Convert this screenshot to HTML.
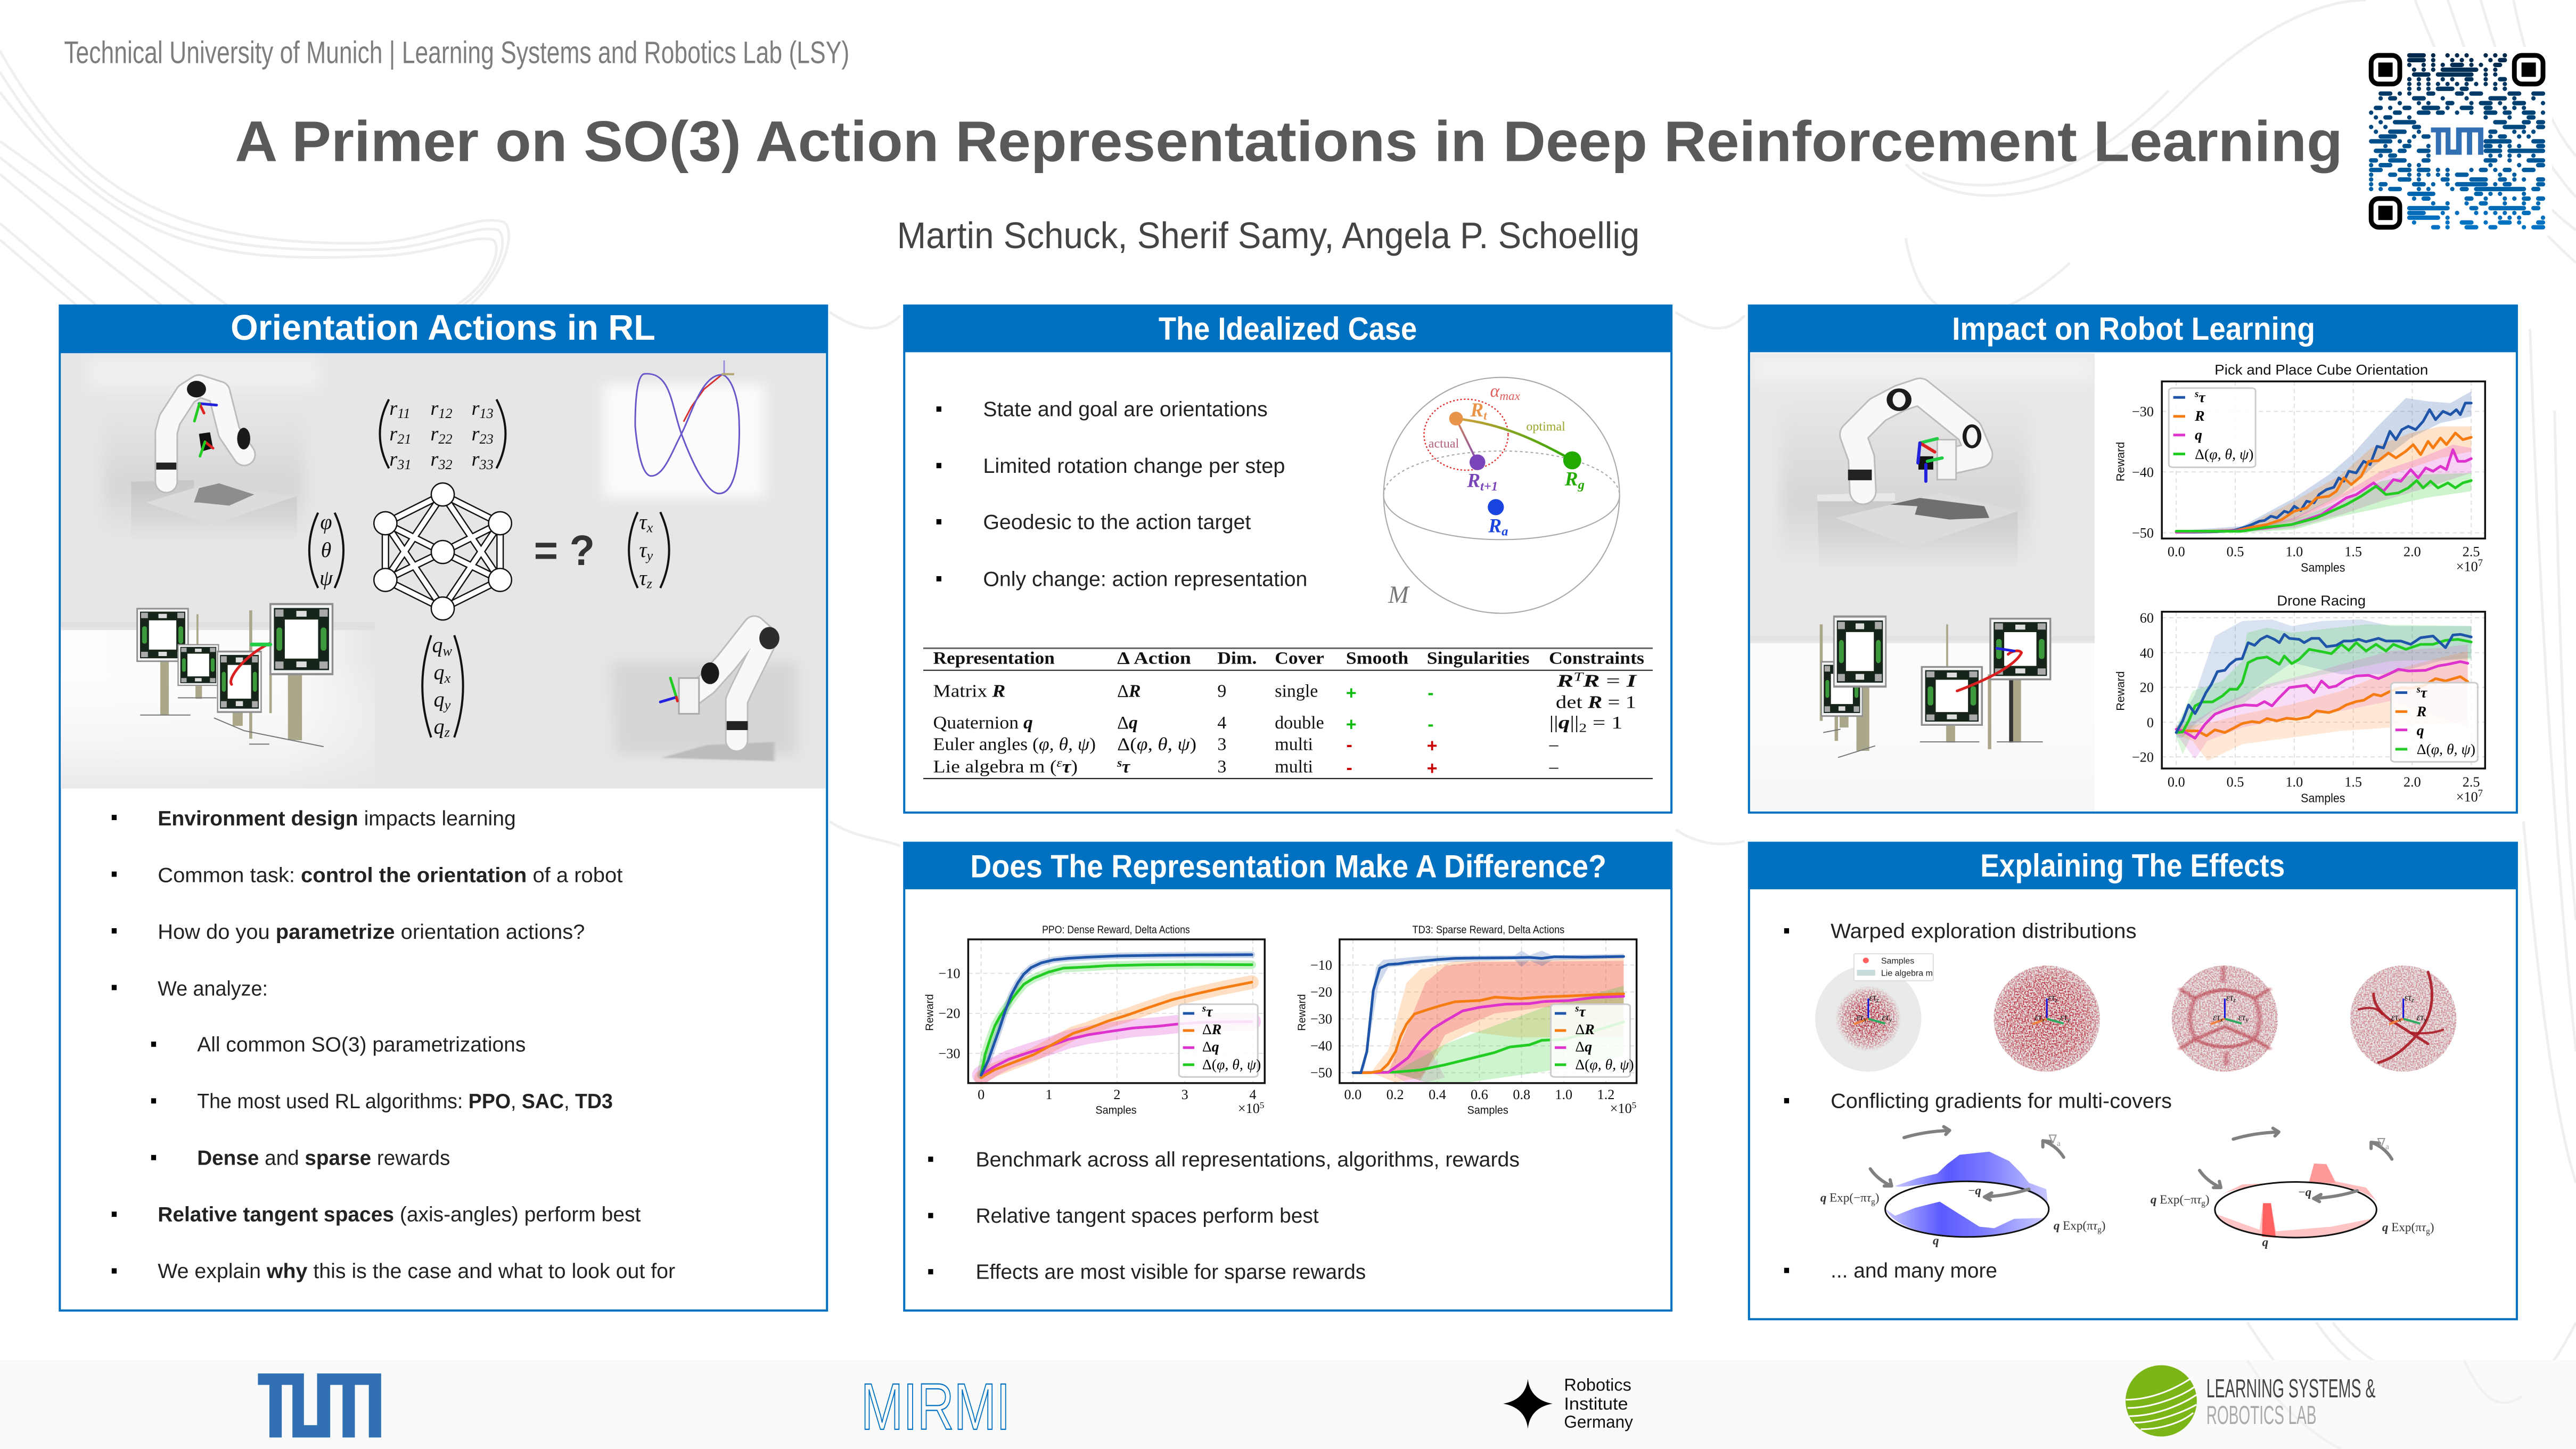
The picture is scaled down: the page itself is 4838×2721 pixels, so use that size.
<!DOCTYPE html>
<html><head><meta charset="utf-8"><title>A Primer on SO(3) Action Representations in Deep Reinforcement Learning</title>
<style>
html,body{margin:0;padding:0;background:#fff}
svg{display:block}
text{font-family:"Liberation Sans",sans-serif}
.s{font-family:"Liberation Serif",serif}
.i{font-family:"Liberation Serif",serif;font-style:italic}
.h{font-weight:700;fill:#fff;font-size:20px}
.b{font-size:12.6px;fill:#222}
.t{font-family:"Liberation Serif",serif;font-size:8.5px;fill:#111}
.l{font-family:"Liberation Serif",serif;font-size:9px;fill:#111}
.n *{vector-effect:non-scaling-stroke}
.nl{fill:none;stroke-linejoin:round;stroke-linecap:round}
</style></head><body>
<svg xmlns="http://www.w3.org/2000/svg" width="4838" height="2721" viewBox="0 0 1568 882" preserveAspectRatio="none">
<defs>
<linearGradient id="fadeV" x1="0" y1="0" x2="0" y2="1"><stop offset="0" stop-color="#c6c6c6"/><stop offset=".55" stop-color="#d4d4d4"/><stop offset="1" stop-color="#e6e6e6"/></linearGradient>
<linearGradient id="floorV" x1="0" y1="0" x2="0" y2="1"><stop offset="0" stop-color="#e6e6e6"/><stop offset=".62" stop-color="#d6d6d6"/><stop offset="1" stop-color="#e6e6e6"/></linearGradient>
<linearGradient id="whiteH" x1="0" y1="0" x2="1" y2="0"><stop offset="0" stop-color="#fdfdfd"/><stop offset=".72" stop-color="#fbfbfb"/><stop offset="1" stop-color="#e6e6e6"/></linearGradient>
<linearGradient id="whiteV3" x1="0" y1="0" x2="0" y2="1"><stop offset="0" stop-color="#ffffff" stop-opacity="0"/><stop offset=".2" stop-color="#fff" stop-opacity="0"/><stop offset="1" stop-color="#e6e6e6" stop-opacity=".85"/></linearGradient>
<linearGradient id="blueG" x1="0" y1="0" x2="1" y2="0"><stop offset="0" stop-color="#c8c8ff"/><stop offset=".35" stop-color="#5a5aff"/><stop offset=".6" stop-color="#7a7aff"/><stop offset="1" stop-color="#c8c8ff"/></linearGradient>
<linearGradient id="qrG" gradientUnits="userSpaceOnUse" x1="0" y1="0" x2="0" y2="36"><stop offset="0" stop-color="#00284a"/><stop offset=".5" stop-color="#004f8a"/><stop offset="1" stop-color="#0073c4"/></linearGradient>
<linearGradient id="geo" x1="0" y1="0" x2="1" y2="0"><stop offset="0" stop-color="#d9a040"/><stop offset="1" stop-color="#2aa800"/></linearGradient>
<linearGradient id="geo2" x1="0" y1="0" x2="0" y2="1"><stop offset="0" stop-color="#d8864e"/><stop offset="1" stop-color="#8048b8"/></linearGradient>
<radialGradient id="s1" cx=".5" cy=".5" r=".5"><stop offset="0" stop-color="#b02838" stop-opacity="1"/><stop offset=".25" stop-color="#b02838" stop-opacity=".95"/><stop offset=".5" stop-color="#b02838" stop-opacity=".5"/><stop offset=".62" stop-color="#b02838" stop-opacity="0"/></radialGradient>
<radialGradient id="s2" cx=".5" cy=".5" r=".5"><stop offset="0" stop-color="#b52030" stop-opacity=".95"/><stop offset=".75" stop-color="#b52030" stop-opacity=".8"/><stop offset="1" stop-color="#b52030" stop-opacity=".5"/></radialGradient>
<filter id="spk" x="0" y="0" width="100%" height="100%"><feTurbulence type="fractalNoise" baseFrequency="1.1" numOctaves="2" seed="3" result="n"/><feColorMatrix in="n" type="matrix" values="0 0 0 0 0 0 0 0 0 0 0 0 0 0 0 3.2 0 0 0 -1.15" result="a"/><feComposite in="SourceGraphic" in2="a" operator="in"/></filter>
<filter id="bz" x="-30%" y="-30%" width="160%" height="160%"><feGaussianBlur stdDeviation="14 20"/></filter>
<filter id="bt" x="-20%" y="-20%" width="140%" height="140%"><feGaussianBlur stdDeviation="3 2"/></filter>
<path id="tumL" d="M157 836H185V875H178V843H171.5V875H164V843H157ZM178 867.5H193V836H232V875H224.5V843H216V875H208.5V843H201V875H178Z"/>
<symbol id="gate" viewBox="0 0 100 100" preserveAspectRatio="none">
<rect width="100" height="100" fill="#8f8f8f"/><rect x="3" y="3" width="94" height="94" fill="#f4f4f4"/><rect x="7" y="7" width="86" height="86" fill="#16241a"/>
<rect x="24" y="23" width="52" height="54" fill="#fff"/>
<rect x="11" y="34" width="9" height="32" rx="4" fill="#3c9a3c"/><rect x="80" y="34" width="9" height="32" rx="4" fill="#3c9a3c"/>
<rect x="9" y="9" width="13" height="10" fill="#aaa"/><rect x="78" y="9" width="13" height="10" fill="#aaa"/><rect x="9" y="81" width="13" height="10" fill="#aaa"/><rect x="78" y="81" width="13" height="10" fill="#aaa"/>
<rect x="42" y="11" width="16" height="8" fill="#ddd"/><rect x="42" y="81" width="16" height="8" fill="#ddd"/>
</symbol>
</defs>
<rect width="1568" height="882" fill="#fff"/>
<g fill="none" stroke="#efefef" stroke-width="1.6">
<path d="M0 31C50 120 110 150 225 148C262 147 290 130 306 135C314 138 310 165 285 187"/>
<path d="M0 44C60 140 120 154 225 152C262 152 290 136 303 140C310 144 305 170 280 187"/>
<path d="M0 56C70 150 130 160 225 156C262 156 288 142 300 146C306 150 300 172 276 187"/>
<path d="M0 86L70 136L140 187M0 96L60 142L120 187M0 106L50 148L100 187M0 136L60 187M0 146L48 187"/>
<path d="M1470 0C1510 100 1535 130 1568 160M1490 0C1520 90 1540 120 1568 140M1510 0C1530 70 1550 100 1568 120M1530 0C1540 50 1555 80 1568 95"/>
<path d="M1160 100C1190 130 1260 130 1330 60C1380 10 1420 0 1440 0M1170 105C1200 120 1260 118 1320 55M1160 145C1175 230 1240 178 1260 160"/>
<path d="M1540 200C1545 350 1555 520 1568 640M1555 250C1558 400 1562 500 1568 560M1536 500C1545 600 1555 680 1568 720"/>
<path d="M505 500C520 510 535 510 548 515M1020 505C1035 515 1050 515 1062 512M505 190C520 200 535 205 548 192M1020 190C1035 200 1050 205 1062 192"/>
<path d="M1410 805C1440 850 1490 860 1530 850C1550 840 1560 820 1568 805M1420 805C1450 845 1500 850 1535 842M1368 805C1390 840 1420 870 1440 882"/>
</g>
<rect y="828" width="1568" height="54" fill="#fafafa"/>
<g fill="none" stroke="#f1f1f1" stroke-width="1.6"><path d="M1368 828C1385 855 1410 875 1425 882M1500 828C1510 850 1520 860 1535 850"/></g>

<text x="39" y="38.4" font-size="19" fill="#7d7d7d" textLength="478" lengthAdjust="spacingAndGlyphs">Technical University of Munich | Learning Systems and Robotics Lab (LSY)</text>
<text x="143" y="98" font-size="35" font-weight="700" fill="#595959" textLength="1283" lengthAdjust="spacingAndGlyphs">A Primer on SO(3) Action Representations in Deep Reinforcement Learning</text>
<text x="546" y="151" font-size="22.5" fill="#444" textLength="452" lengthAdjust="spacingAndGlyphs">Martin Schuck, Sherif Samy, Angela P. Schoellig</text>

<!-- QR -->
<rect x="1439" y="28.5" width="114.4" height="115" fill="#fff"/>
<g transform="translate(1443.3 33.7) scale(2.906)">
<path fill="none" stroke="url(#qrG)" stroke-width=".92" stroke-linecap="round" d="M8 0h3M13 0h0M16 0h0M18 0h0M20 0h0M24 0h0M26 0h0M28 0h0M8 1h3M13 1h0M17 1h0M19 1h0M21 1h0M25 1h0M27 1h1M8 2h0M11 2h0M13 2h0M15 2h0M17 2h2M21 2h0M23 2h0M26 2h1M9 3h0M11 3h0M13 3h0M15 3h7M24 3h0M26 3h0M9 4h3M14 4h7M24 4h0M26 4h0M8 5h0M10 5h0M12 5h0M15 5h0M17 5h0M20 5h1M24 5h0M27 5h1M8 6h0M10 6h0M12 6h0M14 6h0M16 6h0M18 6h0M20 6h0M22 6h0M24 6h0M26 6h0M28 6h0M8 7h0M10 7h0M12 7h0M14 7h3M19 7h1M26 7h0M28 7h0M2 8h2M6 8h0M8 8h0M12 8h1M18 8h1M21 8h2M29 8h2M34 8h2M2 9h0M4 9h1M9 9h2M15 9h0M20 9h0M25 9h3M30 9h0M34 9h0M6 10h0M10 10h0M12 10h0M16 10h1M21 10h0M23 10h2M27 10h0M30 10h2M36 10h0M1 11h1M4 11h0M7 11h1M11 11h3M16 11h0M19 11h2M24 11h1M28 11h0M30 11h0M32 11h0M0 12h0M5 12h1M10 12h2M14 12h1M18 12h0M21 12h0M24 12h2M28 12h1M32 12h2M36 12h0M1 13h0M3 13h1M8 13h0M24 13h0M29 13h0M33 13h1M2 14h0M5 14h4M26 14h2M32 14h1M35 14h1M0 15h0M3 15h0M9 15h1M28 15h4M35 15h1M1 16h0M4 16h3M10 16h0M25 16h1M30 16h0M32 16h0M34 16h0M2 17h3M9 17h0M11 17h1M25 17h0M27 17h1M31 17h0M33 17h0M0 18h4M6 18h0M8 18h0M24 18h5M34 18h2M3 19h0M7 19h1M12 19h0M24 19h1M27 19h0M29 19h0M31 19h0M35 19h1M1 20h3M6 20h1M10 20h2M24 20h3M29 20h7M2 21h0M4 21h1M12 21h0M25 21h0M27 21h0M29 21h0M31 21h0M34 21h0M0 22h1M4 22h3M11 22h1M24 22h2M29 22h0M33 22h3M0 23h0M2 23h2M8 23h0M10 23h0M25 23h0M31 23h0M35 23h1M0 24h2M6 24h2M10 24h2M14 24h0M16 24h0M21 24h0M23 24h1M26 24h0M28 24h1M32 24h2M0 25h0M4 25h1M8 25h0M10 25h0M12 25h0M14 25h0M16 25h0M18 25h2M27 25h0M30 25h0M0 26h0M6 26h2M10 26h0M15 26h1M21 26h3M27 26h1M30 26h0M32 26h0M35 26h1M0 27h0M2 27h1M9 27h2M13 27h0M16 27h0M18 27h6M26 27h0M28 27h1M35 27h1M0 28h0M2 28h0M4 28h2M10 28h0M12 28h0M17 28h0M19 28h1M22 28h10M34 28h1M8 29h5M22 29h1M25 29h0M27 29h0M32 29h0M9 30h0M11 30h1M20 30h1M24 30h0M28 30h0M30 30h0M32 30h1M35 30h1M13 31h0M16 31h0M20 31h0M23 31h1M28 31h0M32 31h0M35 31h0M8 32h8M21 32h1M25 32h7M34 32h1M8 33h3M15 33h0M18 33h0M22 33h0M24 33h0M26 33h0M28 33h0M30 33h0M32 33h1M8 34h6M16 34h0M27 34h0M29 34h0M31 34h0M36 34h0M9 35h0M16 35h0M19 35h2M24 35h0M27 35h2M31 35h0M35 35h1M13 36h1M16 36h0M20 36h2M25 36h1M32 36h0M34 36h2"/>
<g fill="none" stroke="#000"><rect x="0" y="0" width="6" height="6" rx="1.6"/><rect x="30" y="0" width="6" height="6" rx="1.6"/><rect x="0" y="30" width="6" height="6" rx="1.6"/></g>
<rect x="1.5" y="1.5" width="3" height="3"/><rect x="31.5" y="1.5" width="3" height="3"/><rect x="1.5" y="31.5" width="3" height="3"/>
</g>
<use href="#tumL" fill="#3070b3" transform="translate(1479.7 77.6) scale(.4253 .4256) translate(-157 -836)"/>

<!-- Panel frames -->
<g fill="#fff" stroke="#0070c0" stroke-width="1.3">
<rect x="36.4" y="186" width="467" height="611.7"/>
<rect x="550.4" y="186" width="467" height="308.6"/>
<rect x="1064.6" y="186" width="467.4" height="308.6"/>
<rect x="550.4" y="513" width="467" height="284.7"/>
<rect x="1064.6" y="513" width="467.4" height="290"/>
</g>
<g fill="#0070c0">
<rect x="36" y="185.4" width="468" height="29.6"/>
<rect x="550" y="185.4" width="468" height="29"/>
<rect x="1064.2" y="185.4" width="468.2" height="29"/>
<rect x="550" y="512.5" width="468" height="28.8"/>
<rect x="1064.2" y="512.7" width="468.2" height="28.6"/>
</g>
<text class="h" x="140.4" y="206.8" font-size="21.5" style="font-size:21.5px" textLength="258.5" lengthAdjust="spacingAndGlyphs">Orientation Actions in RL</text>
<text class="h" x="705.2" y="206.8" style="font-size:19.5px" textLength="157.3" lengthAdjust="spacingAndGlyphs">The Idealized Case</text>
<text class="h" x="1188.2" y="206.8" style="font-size:19.5px" textLength="221" lengthAdjust="spacingAndGlyphs">Impact on Robot Learning</text>
<text class="h" x="590.6" y="534" style="font-size:19.5px" textLength="387.2" lengthAdjust="spacingAndGlyphs">Does The Representation Make A Difference?</text>
<text class="h" x="1205.4" y="533.6" style="font-size:19.5px" textLength="185.4" lengthAdjust="spacingAndGlyphs">Explaining The Effects</text>

<!-- Panel 1 image -->
<svg x="37" y="215" width="465.6" height="265" viewBox="37 215 465.6 265" overflow="hidden">
<rect x="37" y="215" width="465.6" height="265" fill="#e6e6e6"/>
<g class="n" transform="translate(32.4 181.5) scale(.3059 .1943)">
<rect x="70" y="180" width="460" height="110" fill="#efefef" filter="url(#bz)"/>
<rect x="100" y="340" width="400" height="410" fill="url(#floorV)" filter="url(#bz)"/>
<polygon points="155,575 280,570 280,600 485,620 485,760 155,760" fill="url(#fadeV)"/>
<polygon points="185,640 290,590 485,620 315,710" fill="#dcdcdc"/>
<polygon points="290,595 330,580 400,615 350,650 290,640 280,640" fill="#8d8d8d"/>
<rect x="15" y="1030" width="625" height="505" fill="url(#whiteH)"/>
<rect x="15" y="1015" width="625" height="25" fill="#dcdcdc" opacity=".7"/>
<rect x="15" y="1030" width="625" height="505" fill="url(#whiteV3)"/>
<rect x="1095" y="270" width="320" height="355" fill="#fcfcfc" filter="url(#bz)"/>
<polyline class="nl" points="225,575 225,420 232,380 265,300 290,275 330,295 350,420 380,490" stroke="#bcbcbc" stroke-width="44"/>
<polyline class="nl" points="225,575 225,420 232,380 265,300 290,275 330,295 350,420 380,490" stroke="#f8f8f8" stroke-width="38"/>
<ellipse cx="285" cy="285" rx="19" ry="26" fill="#1b1b1b"/><ellipse cx="379" cy="440" rx="13" ry="34" fill="#1b1b1b"/>
<rect x="205" y="515" width="40" height="22" fill="#222"/>
<polygon points="290,425 312,420 318,470 295,480" fill="#111"/>
<g class="nl" stroke-width="5"><path d="M290 330L325 335" stroke="#2222dd"/><path d="M291 330L300 360" stroke="#dd2222"/><path d="M291 330L281 385" stroke="#22cc22"/><path d="M302 450L318 470" stroke="#dd2222"/><path d="M302 450L292 495" stroke="#22cc22"/></g>
<polygon points="1110,1140 1480,1140 1480,1430 1120,1430" fill="#d6d6d6" filter="url(#bz)"/>
<polygon points="1300,1400 1435,1390 1435,1450 1210,1440" fill="#bcbcbc" filter="url(#bt)"/>
<polyline class="nl" points="1360,1385 1360,1260 1370,1225 1420,1065 1395,1030 1340,1140 1300,1210 1270,1245" stroke="#bcbcbc" stroke-width="44"/>
<polyline class="nl" points="1360,1385 1360,1260 1370,1225 1420,1065 1395,1030 1340,1140 1300,1210 1270,1245" stroke="#f8f8f8" stroke-width="38"/>
<ellipse cx="1425" cy="1065" rx="20" ry="35" fill="#2c2c2c"/><ellipse cx="1307" cy="1175" rx="18" ry="34" fill="#1b1b1b"/>
<rect x="1340" y="1325" width="42" height="28" fill="#222"/>
<rect x="1245" y="1190" width="40" height="112" fill="#f2f2f2" stroke="#aaa" stroke-width="3"/>
<g class="nl" stroke-width="5"><path d="M1240 1250L1228 1190" stroke="#22cc22"/><path d="M1240 1250L1208 1265" stroke="#2222dd"/><path d="M1240 1250L1242 1262" stroke="#dd2222"/></g>
<g fill="#aba78b"><rect x="213" y="1130" width="17" height="175"/><rect x="285" y="990" width="4" height="110"/><rect x="283" y="1215" width="13" height="40"/><rect x="357" y="1295" width="20" height="45"/><rect x="390" y="978" width="6" height="402"/><rect x="430" y="1140" width="5" height="160"/><rect x="467" y="1170" width="28" height="215"/></g>
<g fill="none" stroke="#777" stroke-width="2"><path d="M173 1306H273M320 1315L380 1355M380 1355L538 1405M390 1397H430M248 1252H325"/></g>
<polyline class="nl" points="1255,385 1270,340 1295,285 1330,240" stroke="#d83030" stroke-width="3"/>
<path class="nl" d="M1177 237C1230 230 1230 340 1250 425C1270 510 1300 612 1325 612C1370 612 1365 400 1365 400C1365 300 1345 240 1330 240C1290 240 1270 365 1250 425C1230 485 1215 557 1190 557C1165 557 1158 400 1158 400C1158 290 1165 237 1177 237Z" stroke="#6658c8" stroke-width="3"/>
<path d="M1335 195V240" stroke="#9a90dd" stroke-width="3" fill="none"/><path d="M1330 238H1355" stroke="#b0a870" stroke-width="4" fill="none"/>
</g>
</svg>
<use href="#gate" x="83" y="370" width="32" height="33"/>
<use href="#gate" x="108" y="392" width="25.4" height="25.6"/>
<use href="#gate" x="132" y="396" width="27.4" height="38"/>
<use href="#gate" x="164" y="367" width="39" height="44"/>
<g class="n" transform="translate(32.4 181.5) scale(.3059 .1943)"><path class="nl" d="M355 1210C345 1190 385 1115 430 1082" stroke="#d82020" stroke-width="5"/><path class="nl" d="M395 1085L432 1085" stroke="#22cc44" stroke-width="7"/></g>

<!-- Panel 1 math -->
<g class="n" transform="translate(32.4 181.5) scale(.3059 .1943)" fill="none" stroke="#111" stroke-width="4">
<path d="M668 317Q632 425 668 533M882 317Q918 425 882 533M527 672Q492 790 527 908M560 672Q595 790 560 908M1163 670Q1128 790 1163 908M1208 670Q1243 790 1208 908M752 1056Q717 1215 752 1376M798 1056Q833 1215 798 1376"/>
</g>
<g font-size="12.5" fill="#111">
<text class="i" x="237" y="252.5">r<tspan font-size="8.5" dy="2">11</tspan></text><text class="i" x="262" y="252.5">r<tspan font-size="8.5" dy="2">12</tspan></text><text class="i" x="287" y="252.5">r<tspan font-size="8.5" dy="2">13</tspan></text>
<text class="i" x="237" y="268">r<tspan font-size="8.5" dy="2">21</tspan></text><text class="i" x="262" y="268">r<tspan font-size="8.5" dy="2">22</tspan></text><text class="i" x="287" y="268">r<tspan font-size="8.5" dy="2">23</tspan></text>
<text class="i" x="237" y="283.5">r<tspan font-size="8.5" dy="2">31</tspan></text><text class="i" x="262" y="283.5">r<tspan font-size="8.5" dy="2">32</tspan></text><text class="i" x="287" y="283.5">r<tspan font-size="8.5" dy="2">33</tspan></text>
<text class="i" x="198.5" y="322" text-anchor="middle" font-size="13">φ</text><text class="i" x="198.5" y="339" text-anchor="middle" font-size="13">θ</text><text class="i" x="198.5" y="356" text-anchor="middle" font-size="13">ψ</text>
<text class="i" x="389" y="322" font-size="13">τ<tspan font-size="8.5" dy="2">x</tspan></text><text class="i" x="389" y="339" font-size="13">τ<tspan font-size="8.5" dy="2">y</tspan></text><text class="i" x="389" y="356" font-size="13">τ<tspan font-size="8.5" dy="2">z</tspan></text>
<text class="i" x="263" y="397" font-size="13">q<tspan font-size="8.5" dy="2">w</tspan></text><text class="i" x="264" y="413.5" font-size="13">q<tspan font-size="8.5" dy="2">x</tspan></text><text class="i" x="264" y="430" font-size="13">q<tspan font-size="8.5" dy="2">y</tspan></text><text class="i" x="264" y="446.5" font-size="13">q<tspan font-size="8.5" dy="2">z</tspan></text>
</g>
<text x="325" y="344" font-size="26" font-weight="700" fill="#333" textLength="37" lengthAdjust="spacingAndGlyphs">= ?</text>
<!-- network -->
<g fill="none" stroke="#111" stroke-width="4.6" stroke-linecap="butt">
<path id="nn" d="M269.5 301L234.6 318.5M269.5 301L304.4 318.5M269.5 301L234.6 353M269.5 301L304.4 353M234.6 318.5L269.5 336M234.6 318.5L269.5 370.4M304.4 318.5L269.5 336M304.4 318.5L269.5 370.4M234.6 353L269.5 336M234.6 353L269.5 370.4M304.4 353L269.5 336M304.4 353L269.5 370.4M234.6 318.5V353M304.4 318.5V353"/>
</g>
<use href="#nn" fill="none" stroke="#fff" stroke-width="3"/>
<g fill="#fff" stroke="#111" stroke-width=".8"><circle cx="269.5" cy="301" r="7"/><circle cx="234.6" cy="318.5" r="7"/><circle cx="304.4" cy="318.5" r="7"/><circle cx="269.5" cy="336" r="7"/><circle cx="234.6" cy="353" r="7"/><circle cx="304.4" cy="353" r="7"/><circle cx="269.5" cy="370.4" r="7"/></g>

<!-- Panel 1 text -->
<g fill="#000"><rect x="68" y="496" width="3" height="3.2"/><rect x="68" y="530.5" width="3" height="3.2"/><rect x="68" y="565" width="3" height="3.2"/><rect x="68" y="599.5" width="3" height="3.2"/><rect x="92" y="634" width="3" height="3.2"/><rect x="92" y="668.5" width="3" height="3.2"/><rect x="92" y="703" width="3" height="3.2"/><rect x="68" y="737.5" width="3" height="3.2"/><rect x="68" y="772" width="3" height="3.2"/></g>
<text class="b" x="96" y="502.5" textLength="218" lengthAdjust="spacingAndGlyphs"><tspan font-weight="700">Environment design</tspan> impacts learning</text>
<text class="b" x="96" y="537" textLength="283" lengthAdjust="spacingAndGlyphs">Common task: <tspan font-weight="700">control the orientation</tspan> of a robot</text>
<text class="b" x="96" y="571.5" textLength="260" lengthAdjust="spacingAndGlyphs">How do you <tspan font-weight="700">parametrize</tspan> orientation actions?</text>
<text class="b" x="96" y="606" textLength="67" lengthAdjust="spacingAndGlyphs">We analyze:</text>
<text class="b" x="120" y="640" textLength="200" lengthAdjust="spacingAndGlyphs">All common SO(3) parametrizations</text>
<text class="b" x="120" y="674.5" textLength="253" lengthAdjust="spacingAndGlyphs">The most used RL algorithms: <tspan font-weight="700">PPO</tspan>, <tspan font-weight="700">SAC</tspan>, <tspan font-weight="700">TD3</tspan></text>
<text class="b" x="120" y="709" textLength="154" lengthAdjust="spacingAndGlyphs"><tspan font-weight="700">Dense</tspan> and <tspan font-weight="700">sparse</tspan> rewards</text>
<text class="b" x="96" y="743.5" textLength="294" lengthAdjust="spacingAndGlyphs"><tspan font-weight="700">Relative tangent spaces</tspan> (axis-angles) perform best</text>
<text class="b" x="96" y="778" textLength="315" lengthAdjust="spacingAndGlyphs">We explain <tspan font-weight="700">why</tspan> this is the case and what to look out for</text>

<!-- Panel 2 -->
<g fill="#000"><rect x="570" y="247.4" width="3" height="3.2"/><rect x="570" y="281.8" width="3" height="3.2"/><rect x="570" y="316" width="3" height="3.2"/><rect x="570" y="350.7" width="3" height="3.2"/></g>
<text class="b" x="598.4" y="253.4" textLength="173.2" lengthAdjust="spacingAndGlyphs">State and goal are orientations</text>
<text class="b" x="598.4" y="287.8" textLength="183.8" lengthAdjust="spacingAndGlyphs">Limited rotation change per step</text>
<text class="b" x="598.4" y="322" textLength="163" lengthAdjust="spacingAndGlyphs">Geodesic to the action target</text>
<text class="b" x="598.4" y="356.7" textLength="197.4" lengthAdjust="spacingAndGlyphs">Only change: action representation</text>
<g fill="none" stroke="#aaa" stroke-width=".7">
<circle cx="914" cy="301.5" r="71.8"/>
<path d="M842.2 301.5A71.8 27 0 0 0 985.8 301.5"/>
<path d="M842.2 301.5A71.8 27 0 0 1 985.8 301.5" stroke-dasharray="1.6 1.6"/>
</g>
<ellipse cx="892.4" cy="264.6" rx="25.6" ry="21.6" fill="none" stroke="#e03030" stroke-width=".8" stroke-dasharray="1 1.2"/>
<path d="M886.3 254.8C915 258 935 268 957 280" fill="none" stroke="url(#geo)" stroke-width="1.5"/>
<path d="M886.3 254.8L899.3 281.4" fill="none" stroke="url(#geo2)" stroke-width="1.2"/>
<circle cx="886.3" cy="254.8" r="4.2" fill="#e8944a"/><circle cx="899.3" cy="281.4" r="4.8" fill="#7a45b8"/><circle cx="957" cy="280.2" r="5.5" fill="#22aa00"/><circle cx="910.5" cy="308.7" r="4.9" fill="#1a44e0"/>
<text class="i" x="907" y="241.5" font-size="11" fill="#e06060">α<tspan font-size="7.5" dy="2">max</tspan></text>
<text class="i" x="895" y="253.5" font-size="12" font-weight="700" fill="#e8944a">R<tspan font-size="7.5" dy="2">t</tspan></text>
<text class="s" x="929" y="262" font-size="7.8" fill="#9aa52a">optimal</text>
<text class="s" x="869.5" y="272.5" font-size="7.8" fill="#b0607a">actual</text>
<text class="i" x="893" y="296.5" font-size="12" font-weight="700" fill="#7a45b8">R<tspan font-size="8" dy="2">t+1</tspan></text>
<text class="i" x="952.5" y="295.5" font-size="12" font-weight="700" fill="#22aa00">R<tspan font-size="8" dy="2">g</tspan></text>
<text class="i" x="906" y="324" font-size="12" font-weight="700" fill="#1a44e0">R<tspan font-size="8" dy="2">a</tspan></text>
<text class="i" x="845" y="367" font-size="15" fill="#777">M</text>
<!-- table -->
<path d="M562 394.6H1006" stroke="#666" stroke-width="1"/><path d="M562 408H1006M562 473.9H1006" stroke="#222" stroke-width=".7"/>
<g font-weight="700" font-size="10.5" fill="#111">
<text class="s" x="568" y="404" textLength="74" lengthAdjust="spacingAndGlyphs">Representation</text>
<text class="s" x="680" y="404" textLength="45" lengthAdjust="spacingAndGlyphs">Δ Action</text>
<text class="s" x="741" y="404" textLength="24" lengthAdjust="spacingAndGlyphs">Dim.</text>
<text class="s" x="776" y="404" textLength="30" lengthAdjust="spacingAndGlyphs">Cover</text>
<text class="s" x="819.3" y="404" textLength="38" lengthAdjust="spacingAndGlyphs">Smooth</text>
<text class="s" x="868.5" y="404" textLength="62.5" lengthAdjust="spacingAndGlyphs">Singularities</text>
<text class="s" x="942.8" y="404" textLength="58" lengthAdjust="spacingAndGlyphs">Constraints</text>
</g>
<g font-size="11" fill="#111">
<text class="s" x="568" y="424.2" textLength="44" lengthAdjust="spacingAndGlyphs">Matrix <tspan font-style="italic" font-weight="700">R</tspan></text>
<text class="s" x="680" y="424.2">Δ<tspan font-style="italic" font-weight="700">R</tspan></text>
<text class="s" x="741" y="424.2">9</text><text class="s" x="776" y="424.2">single</text>
<text class="s" x="568" y="443.5" textLength="60.7" lengthAdjust="spacingAndGlyphs">Quaternion <tspan font-style="italic" font-weight="700">q</tspan></text>
<text class="s" x="680" y="443.5">Δ<tspan font-style="italic" font-weight="700">q</tspan></text>
<text class="s" x="741" y="443.5">4</text><text class="s" x="776" y="443.5">double</text>
<text class="s" x="568" y="456.6" textLength="99" lengthAdjust="spacingAndGlyphs">Euler angles (<tspan font-style="italic">φ, θ, ψ</tspan>)</text>
<text class="s" x="680" y="456.6" textLength="48.3" lengthAdjust="spacingAndGlyphs">Δ(<tspan font-style="italic">φ, θ, ψ</tspan>)</text>
<text class="s" x="741" y="456.6">3</text><text class="s" x="776" y="456.6">multi</text>
<text class="s" x="568" y="470.2" textLength="88" lengthAdjust="spacingAndGlyphs">Lie algebra m (<tspan font-style="italic" font-size="7.5" dy="-3.5">ε</tspan><tspan font-style="italic" font-weight="700" dy="3.5">τ</tspan>)</text>
<text class="s" x="680" y="470.2"><tspan font-style="italic" font-weight="700" font-size="7.5" dy="-3.5">s</tspan><tspan font-style="italic" font-weight="700" dy="3.5">τ</tspan></text>
<text class="s" x="741" y="470.2">3</text><text class="s" x="776" y="470.2">multi</text>
<text class="s" x="947.6" y="418" textLength="48.4" lengthAdjust="spacingAndGlyphs"><tspan font-style="italic" font-weight="700">R</tspan><tspan font-style="italic" font-size="7.5" dy="-3.5">T</tspan><tspan font-style="italic" font-weight="700" dy="3.5">R</tspan> = <tspan font-style="italic" font-weight="700">I</tspan></text>
<text class="s" x="947" y="431" textLength="49" lengthAdjust="spacingAndGlyphs">det <tspan font-style="italic" font-weight="700">R</tspan> = 1</text>
<text class="s" x="943" y="443.5" textLength="44.7" lengthAdjust="spacingAndGlyphs">||<tspan font-style="italic" font-weight="700">q</tspan>||<tspan font-size="7.5" dy="2">2</tspan><tspan dy="-2"> = 1</tspan></text>
<text class="s" x="943" y="456.6">–</text><text class="s" x="943" y="470.2">–</text>
</g>
<g font-weight="700" font-size="11">
<text x="819.3" y="425.5" fill="#0dbb0d">+</text><text x="819.3" y="444.5" fill="#0dbb0d">+</text>
<text x="819.5" y="457" fill="#c80000">-</text><text x="819.5" y="471" fill="#c80000">-</text>
<text x="869" y="425.5" fill="#0dbb0d">-</text><text x="869" y="444.5" fill="#0dbb0d">-</text>
<text x="868.5" y="457.5" fill="#c80000">+</text><text x="868.5" y="471.3" fill="#c80000">+</text>
</g>

<!-- Panel 3 image -->
<svg x="1065.4" y="215" width="209.6" height="278.6" viewBox="1065.4 215 209.6 278.6" overflow="hidden">
<rect x="1065.4" y="215" width="209.6" height="278.6" fill="#e8e8e8"/>
<g class="n" transform="translate(1063 181.5) scale(.3018 .2026)">
<rect x="8" y="165" width="695" height="90" fill="#f0f0f0" filter="url(#bz)"/>
<rect x="70" y="320" width="500" height="470" fill="url(#floorV)" filter="url(#bz)"/>
<polygon points="143,590 300,585 300,640 547,640 547,810 147,810" fill="url(#fadeV)"/>
<polygon points="180,660 390,585 547,640 335,748" fill="#dcdcdc"/>
<polygon points="290,620 350,600 480,625 490,660 410,665 340,650 345,625" fill="#6f6f6f"/>
<rect x="8" y="1030" width="695" height="510" fill="#fcfcfc"/>
<rect x="8" y="1015" width="695" height="22" fill="#e0e0e0" opacity=".7"/>
<rect x="8" y="1040" width="695" height="500" fill="url(#whiteV3)" opacity=".35"/>
<polygon points="143,590 300,585 300,610 143,610" fill="#e8e8e8"/>
<polyline class="nl" points="235,580 232,480 215,410 265,335 310,300 350,280 400,340 450,400 470,470 410,490" stroke="#bcbcbc" stroke-width="52"/>
<polyline class="nl" points="235,580 232,480 215,410 265,335 310,300 350,280 400,340 450,400 470,470 410,490" stroke="#f8f8f8" stroke-width="46"/>
<ellipse cx="308" cy="305" rx="25" ry="34" fill="#1b1b1b"/><ellipse cx="308" cy="305" rx="13" ry="23" fill="#f4f4f4"/>
<ellipse cx="455" cy="415" rx="19" ry="36" fill="#1b1b1b"/><ellipse cx="455" cy="415" rx="11" ry="27" fill="#f4f4f4"/>
<rect x="205" y="515" width="48" height="32" fill="#222"/>
<rect x="385" y="425" width="38" height="120" fill="#f4f4f4" stroke="#bbb" stroke-width="3"/>
<rect x="347" y="475" width="30" height="40" fill="#111"/>
<g class="nl" stroke-width="6"><path d="M350 435L385 422" stroke="#22cc44"/><path d="M350 435L380 462" stroke="#dd2222"/><path d="M350 435L346 495" stroke="#2222dd"/><path d="M362 500V550" stroke="#2222dd"/><path d="M365 490L395 480" stroke="#22cc44"/></g>
<g fill="#aba78b"><rect x="222" y="1160" width="26" height="200"/><rect x="148" y="980" width="6" height="290"/><rect x="178" y="1160" width="7" height="170"/><rect x="188" y="1250" width="18" height="40"/><rect x="403" y="1285" width="18" height="50"/><rect x="403" y="980" width="4" height="130"/><rect x="530" y="1148" width="24" height="187"/><rect x="487" y="1130" width="7" height="225"/></g>
<rect x="530" y="1148" width="8" height="187" fill="#333"/>
<g fill="none" stroke="#777" stroke-width="2"><path d="M185 1380L260 1345M155 1305L190 1295M350 1333H470M505 1333H598"/></g>
</g>
</svg>
<use href="#gate" x="1108.3" y="402.3" width="25.7" height="34.1"/>
<use href="#gate" x="1115.8" y="374.6" width="32.6" height="44"/>
<use href="#gate" x="1169.2" y="405.4" width="37.8" height="36.4"/>
<use href="#gate" x="1210.9" y="376" width="37.7" height="38.1"/>
<g class="n" transform="translate(1063 181.5) scale(.3018 .2026)"><path class="nl" d="M425 1180C470 1155 540 1110 555 1065C550 1055 535 1060 528 1070" stroke="#d82020" stroke-width="5"/><path class="nl" d="M505 1052L540 1060" stroke="#2222dd" stroke-width="5"/></g>

<!-- Charts -->
<g class="n" transform="translate(1063 181.5) scale(.3018 .2026)">
<g fill="none" stroke="#e0e0e0" stroke-width="2" stroke-dasharray="8 6"><path d="M838 340H1490M838 522H1490M838 705H1490M867 250V722M986 250V722M1105 250V722M1224 250V722M1343 250V722M1462 250V722"/></g>
<g fill-opacity=".22">
<polygon fill="#1f55a8" points="867,699 1000,685 1105,600 1175,530 1225,465 1270,390 1330,300 1375,310 1420,315 1462,280 1462,355 1400,375 1340,420 1270,500 1200,590 1105,665 1000,703 867,707"/>
<polygon fill="#ff7f0e" points="867,699 1000,690 1105,610 1200,530 1260,450 1340,405 1400,385 1462,385 1462,460 1400,480 1300,530 1200,600 1105,670 1000,703 867,707"/>
<polygon fill="#dd33cc" points="867,700 1000,692 1105,660 1200,590 1280,520 1360,480 1425,440 1462,450 1462,525 1360,575 1280,610 1200,650 1105,690 1000,703 867,707"/>
<polygon fill="#22cc22" points="867,700 1000,695 1105,665 1200,610 1280,550 1350,530 1462,525 1462,580 1370,600 1280,630 1200,655 1105,695 1000,705 867,707"/>
</g>
<polyline class="nl" stroke="#1f55a8" stroke-width="5" points="867,703 900,703 940,702 965,700 985,697 1005,688 1020,680 1035,670 1045,668 1058,655 1070,660 1085,640 1095,645 1105,625 1118,638 1130,610 1145,615 1155,590 1170,575 1185,568 1195,540 1205,550 1215,520 1230,525 1245,490 1258,500 1272,445 1285,450 1298,400 1310,425 1322,395 1335,385 1350,395 1365,370 1378,335 1390,365 1405,340 1420,350 1432,335 1440,350 1450,315 1462,315"/>
<polyline class="nl" stroke="#f57c12" stroke-width="5" points="867,703 985,699 1020,688 1050,680 1080,665 1105,640 1130,630 1150,600 1175,595 1190,580 1205,540 1220,560 1240,535 1255,490 1275,488 1295,465 1310,480 1330,460 1345,440 1360,470 1375,430 1385,450 1400,420 1412,440 1430,405 1445,425 1462,418"/>
<polyline class="nl" stroke="#dd33cc" stroke-width="5" points="867,703 1000,698 1050,690 1100,680 1130,665 1160,650 1185,625 1210,600 1230,590 1250,570 1265,555 1285,580 1305,545 1320,550 1340,515 1355,540 1370,510 1385,520 1400,505 1412,515 1425,455 1435,490 1450,490 1462,482"/>
<polyline class="nl" stroke="#22cc22" stroke-width="5" points="867,700 1000,700 1050,688 1100,680 1150,660 1180,640 1210,620 1240,595 1270,565 1290,590 1315,585 1335,570 1352,548 1365,570 1380,550 1395,570 1415,555 1430,570 1445,555 1462,548"/>
<rect x="838" y="250" width="652" height="472" fill="none" stroke="#111" stroke-width="3.5"/>
<rect x="852" y="270" width="175" height="238" rx="8" fill="#fff" fill-opacity=".85" stroke="#ccc" stroke-width="3"/>
<g stroke-width="5"><path d="M861 298H885" stroke="#1f55a8"/><path d="M861 355H885" stroke="#f57c12"/><path d="M861 411H885" stroke="#dd33cc"/><path d="M861 468H885" stroke="#22cc22"/></g>
<g fill="none" stroke="#e0e0e0" stroke-width="2" stroke-dasharray="8 6"><path d="M838 960H1490M838 1065H1490M838 1169H1490M838 1274H1490M838 1378H1490M867 942V1413M986 942V1413M1105 942V1413M1224 942V1413M1343 942V1413M1462 942V1413"/></g>
<g fill-opacity=".17">
<polygon fill="#1f55a8" points="867,1290 905,1190 945,1015 1000,970 1060,965 1100,985 1160,970 1240,965 1300,985 1400,985 1462,985 1462,1080 1400,1090 1300,1130 1200,1130 1100,1095 1000,1200 940,1240 905,1280 880,1320 867,1320"/>
<polygon fill="#22cc22" points="867,1290 900,1180 960,1150 1000,1090 1010,1005 1050,990 1100,1005 1250,980 1462,985 1462,1085 1300,1090 1200,1120 1100,1150 1050,1170 1000,1220 950,1250 905,1290 880,1370 867,1320"/>
<polygon fill="#dd33cc" points="867,1285 905,1270 960,1220 1050,1160 1130,1130 1200,1100 1300,1060 1400,1050 1455,1040 1455,1290 1300,1210 1200,1240 1100,1260 1000,1290 930,1330 905,1385 867,1310"/>
<polygon fill="#ff7f0e" points="867,1285 925,1280 1000,1250 1100,1220 1200,1180 1300,1120 1400,1080 1455,1060 1455,1270 1300,1290 1200,1300 1100,1320 1000,1340 930,1390 900,1330 867,1310"/>
</g>
<polyline class="nl" stroke="#f57c12" stroke-width="5" points="867,1295 880,1300 910,1300 928,1315 945,1297 965,1305 985,1290 1000,1278 1020,1272 1035,1275 1050,1263 1070,1270 1090,1262 1110,1265 1135,1258 1150,1240 1175,1245 1195,1235 1210,1222 1230,1212 1245,1208 1265,1190 1280,1195 1300,1180 1320,1170 1340,1172 1365,1165 1390,1143 1410,1150 1440,1137 1455,1152"/>
<polyline class="nl" stroke="#dd33cc" stroke-width="5" points="867,1295 880,1300 905,1322 925,1280 945,1250 965,1238 985,1228 1005,1222 1030,1224 1045,1212 1060,1225 1075,1200 1095,1170 1130,1163 1145,1185 1160,1150 1175,1170 1190,1165 1210,1145 1230,1135 1255,1133 1275,1143 1295,1130 1315,1115 1335,1120 1370,1118 1395,1105 1415,1100 1440,1092 1455,1097"/>
<polyline class="nl" stroke="#22cc22" stroke-width="5" points="867,1305 880,1303 892,1270 905,1225 920,1213 940,1213 960,1195 975,1175 990,1175 1000,1155 1012,1095 1030,1082 1050,1078 1075,1100 1085,1075 1100,1098 1115,1085 1135,1055 1160,1062 1180,1068 1200,1040 1215,1058 1230,1035 1250,1060 1270,1040 1290,1060 1305,1040 1330,1055 1360,1040 1385,1040 1410,1028 1435,1025 1462,1033"/>
<polyline class="nl" stroke="#1f55a8" stroke-width="5" points="867,1305 880,1270 892,1222 905,1248 915,1222 927,1185 938,1160 950,1122 965,1118 975,1100 988,1085 1000,1083 1012,1035 1025,1043 1037,1025 1050,1015 1065,1025 1075,1035 1085,1010 1095,1022 1115,1025 1125,1035 1140,1022 1155,1022 1170,1047 1190,1043 1205,1030 1220,1030 1235,1025 1250,1032 1275,1022 1290,1030 1320,1030 1340,1040 1360,1020 1385,1015 1410,1050 1425,1012 1440,1010 1462,1018"/>
<rect x="838" y="942" width="652" height="471" fill="none" stroke="#111" stroke-width="3.5"/>
<rect x="1300" y="1155" width="175" height="238" rx="8" fill="#fff" fill-opacity=".85" stroke="#ccc" stroke-width="3"/>
<g stroke-width="5"><path d="M1309 1185H1333" stroke="#1f55a8"/><path d="M1309 1242H1333" stroke="#f57c12"/><path d="M1309 1297H1333" stroke="#dd33cc"/><path d="M1309 1355H1333" stroke="#22cc22"/></g>
</g>
<text x="1413" y="228" text-anchor="middle" font-size="8.7" fill="#111" textLength="130" lengthAdjust="spacingAndGlyphs">Pick and Place Cube Orientation</text>
<text x="1413" y="368.5" text-anchor="middle" font-size="8.7" fill="#111" textLength="54" lengthAdjust="spacingAndGlyphs">Drone Racing</text>
<g text-anchor="end"><text class="t" x="1311" y="253.4">−30</text><text class="t" x="1311" y="290.3">−40</text><text class="t" x="1311" y="327.3">−50</text>
<text class="t" x="1311" y="379">60</text><text class="t" x="1311" y="400.3">40</text><text class="t" x="1311" y="421.3">20</text><text class="t" x="1311" y="442.6">0</text><text class="t" x="1311" y="463.7">−20</text></g>
<g text-anchor="middle"><text class="t" x="1324.7" y="338.5">0.0</text><text class="t" x="1360.6" y="338.5">0.5</text><text class="t" x="1396.5" y="338.5">1.0</text><text class="t" x="1432.4" y="338.5">1.5</text><text class="t" x="1468.3" y="338.5">2.0</text><text class="t" x="1504.2" y="338.5">2.5</text>
<text class="t" x="1324.7" y="478.7">0.0</text><text class="t" x="1360.6" y="478.7">0.5</text><text class="t" x="1396.5" y="478.7">1.0</text><text class="t" x="1432.4" y="478.7">1.5</text><text class="t" x="1468.3" y="478.7">2.0</text><text class="t" x="1504.2" y="478.7">2.5</text>
<text x="1414" y="348" font-size="7.5" fill="#111" textLength="27" lengthAdjust="spacingAndGlyphs">Samples</text><text x="1414" y="488.4" font-size="7.5" fill="#111" textLength="27" lengthAdjust="spacingAndGlyphs">Samples</text></g>
<text class="t" x="1495" y="347.6">×10<tspan font-size="6" dy="-3">7</tspan></text><text class="t" x="1495" y="487.8">×10<tspan font-size="6" dy="-3">7</tspan></text>
<text transform="translate(1293 281) rotate(-90)" text-anchor="middle" font-size="7" fill="#111">Reward</text>
<text transform="translate(1293 420.6) rotate(-90)" text-anchor="middle" font-size="7" fill="#111">Reward</text>
<text class="i" x="1336" y="244.7" font-size="9"><tspan font-size="6" dy="-3" font-weight="700">s</tspan><tspan dy="3" font-weight="700">τ</tspan></text><text class="i" x="1336" y="256" font-size="9" font-weight="700">R</text><text class="i" x="1336" y="267.6" font-size="9" font-weight="700">q</text><text class="s" x="1336" y="279.4" font-size="9">Δ(<tspan font-style="italic">φ, θ, ψ</tspan>)</text>
<text class="i" x="1471" y="424.5" font-size="9"><tspan font-size="6" dy="-3" font-weight="700">s</tspan><tspan dy="3" font-weight="700">τ</tspan></text><text class="i" x="1471" y="436" font-size="9" font-weight="700">R</text><text class="i" x="1471" y="447.5" font-size="9" font-weight="700">q</text><text class="s" x="1471" y="459" font-size="9">Δ(<tspan font-style="italic">φ, θ, ψ</tspan>)</text>

<!-- Panel 4 charts -->
<g class="n" transform="translate(547.7 508.9) scale(.3018 .1861)">
<g fill="none" stroke="#e0e0e0" stroke-width="2" stroke-dasharray="8 6"><path d="M138 449H736M138 580H736M138 711H736M164 338V808M301 338V808M438 338V808M575 338V808M712 338V808M887 422H1486M887 510H1486M887 598H1486M887 686H1486M887 774H1486M914 338V808M999 338V808M1084 338V808M1169 338V808M1254 338V808M1339 338V808M1424 338V808"/></g>
<polyline class="nl" stroke="#1f55a8" stroke-opacity=".25" stroke-width="12" points="164,782 178,735 190,680 200,635 212,575 225,520 238,480 250,452 265,430 285,415 310,405 340,400 380,396 440,392 520,390 600,389 710,388"/>
<polyline class="nl" stroke="#22cc22" stroke-opacity=".25" stroke-width="16" points="164,782 172,715 182,665 192,620 202,590 215,560 230,525 250,485 270,465 300,445 330,432 380,428 420,424 500,421 600,420 710,421"/>
<polyline class="nl" stroke="#ff7f0e" stroke-opacity=".25" stroke-width="26" points="164,790 190,765 230,740 270,715 310,680 350,645 380,630 420,605 460,585 500,562 550,535 600,515 650,497 710,478"/>
<polyline class="nl" stroke="#dd33cc" stroke-opacity=".25" stroke-width="34" points="164,782 190,755 220,730 260,708 300,688 340,665 380,650 420,640 470,628 520,622 560,615 600,610 650,608 710,607"/>
<polyline class="nl" stroke="#dd33cc" stroke-width="5" points="164,782 190,755 220,730 260,708 300,688 340,665 380,650 420,640 470,628 520,622 560,615 600,610 650,608 710,607"/>
<polyline class="nl" stroke="#f57c12" stroke-width="5" points="164,790 190,765 230,740 270,715 310,680 350,645 380,630 420,605 460,585 500,562 550,535 600,515 650,497 710,478"/>
<polyline class="nl" stroke="#22cc22" stroke-width="5" points="164,782 172,715 182,665 192,620 202,590 215,560 230,525 250,485 270,465 300,445 330,432 380,428 420,424 500,421 600,420 710,421"/>
<polyline class="nl" stroke="#1f55a8" stroke-width="5" points="164,782 178,735 190,680 200,635 212,575 225,520 238,480 250,452 265,430 285,415 310,405 340,400 380,396 440,392 520,390 600,389 710,388"/>
<rect x="138" y="338" width="598" height="470" fill="none" stroke="#111" stroke-width="3.5"/>
<rect x="563" y="550" width="159" height="238" rx="8" fill="#fff" fill-opacity=".85" stroke="#ccc" stroke-width="3"/>
<g stroke-width="5"><path d="M571 580H594" stroke="#1f55a8"/><path d="M571 636H594" stroke="#f57c12"/><path d="M571 692H594" stroke="#dd33cc"/><path d="M571 748H594" stroke="#22cc22"/></g>
<polygon fill="#ff7f0e" fill-opacity=".22" points="950,774 985,700 1022,480 1050,435 1120,410 1300,405 1460,398 1460,660 1240,658 1150,640 1100,680 1050,790 1000,806 960,780"/>
<polygon fill="#e8304a" fill-opacity=".25" points="985,773 1020,640 1060,480 1100,425 1160,412 1460,408 1460,550 1300,560 1200,580 1100,650 1050,800 1000,775"/>
<polygon fill="#dd33cc" fill-opacity=".18" points="990,775 1040,700 1070,700 1100,790 1060,806 1020,806"/>
<polygon fill="#22cc22" fill-opacity=".22" points="1000,770 1100,680 1200,620 1300,560 1460,490 1460,720 1300,770 1150,805 1060,805 1000,775"/>
<polygon fill="#1f55a8" fill-opacity=".22" points="914,770 935,770 945,650 960,430 975,405 1060,392 1240,390 1254,375 1270,390 1295,375 1315,390 1460,385 1460,400 1315,407 1295,425 1270,407 1254,428 1240,405 1060,415 985,430 965,490 950,640 935,778 914,778"/>
<polyline class="nl" stroke="#22cc22" stroke-width="5" points="914,774 1000,772 1050,765 1100,748 1150,728 1200,708 1230,690 1270,683 1295,668 1340,665 1400,638 1460,608"/>
<polyline class="nl" stroke="#dd33cc" stroke-width="5" points="914,774 985,773 1005,750 1025,725 1050,670 1075,630 1100,605 1135,572 1170,560 1220,550 1270,548 1300,541 1350,538 1400,528 1460,524"/>
<polyline class="nl" stroke="#f57c12" stroke-width="5" points="914,774 950,774 970,768 985,745 1000,705 1010,655 1022,615 1038,582 1060,570 1090,555 1120,542 1170,538 1200,527 1250,532 1300,526 1350,523 1400,519 1460,516"/>
<polyline class="nl" stroke="#1f55a8" stroke-width="5" points="914,774 930,774 942,705 955,505 968,432 985,420 1005,418 1030,412 1060,408 1085,404 1120,400 1160,399 1240,398 1270,397 1295,400 1320,395 1380,396 1460,394"/>
<rect x="887" y="338" width="599" height="470" fill="none" stroke="#111" stroke-width="3.5"/>
<rect x="1313" y="550" width="160" height="238" rx="8" fill="#fff" fill-opacity=".85" stroke="#ccc" stroke-width="3"/>
<g stroke-width="5"><path d="M1321 580H1344" stroke="#1f55a8"/><path d="M1321 636H1344" stroke="#f57c12"/><path d="M1321 692H1344" stroke="#dd33cc"/><path d="M1321 748H1344" stroke="#22cc22"/></g>
</g>
<text x="679.3" y="568" text-anchor="middle" font-size="6.5" fill="#111" textLength="90" lengthAdjust="spacingAndGlyphs">PPO: Dense Reward, Delta Actions</text>
<text x="906" y="568" text-anchor="middle" font-size="6.5" fill="#111" textLength="92.6" lengthAdjust="spacingAndGlyphs">TD3: Sparse Reward, Delta Actions</text>
<g text-anchor="end"><text class="t" x="584.5" y="595.3">−10</text><text class="t" x="584.5" y="619.6">−20</text><text class="t" x="584.5" y="644">−30</text>
<text class="t" x="810.9" y="590.2">−10</text><text class="t" x="810.9" y="606.6">−20</text><text class="t" x="810.9" y="623">−30</text><text class="t" x="810.9" y="639.4">−40</text><text class="t" x="810.9" y="655.7">−50</text></g>
<g text-anchor="middle"><text class="t" x="597.2" y="669">0</text><text class="t" x="638.5" y="669">1</text><text class="t" x="679.9" y="669">2</text><text class="t" x="721.2" y="669">3</text><text class="t" x="762.6" y="669">4</text>
<text class="t" x="823.5" y="669">0.0</text><text class="t" x="849.2" y="669">0.2</text><text class="t" x="874.9" y="669">0.4</text><text class="t" x="900.5" y="669">0.6</text><text class="t" x="926.2" y="669">0.8</text><text class="t" x="951.8" y="669">1.0</text><text class="t" x="977.5" y="669">1.2</text>
<text x="679.3" y="678" font-size="7" fill="#111" textLength="25" lengthAdjust="spacingAndGlyphs">Samples</text><text x="905.6" y="678" font-size="7" fill="#111" textLength="25" lengthAdjust="spacingAndGlyphs">Samples</text></g>
<text class="t" x="753.5" y="677.5">×10<tspan font-size="5.5" dy="-3">5</tspan></text><text class="t" x="980" y="677.5">×10<tspan font-size="5.5" dy="-3">5</tspan></text>
<text transform="translate(568 616.3) rotate(-90)" text-anchor="middle" font-size="6.5" fill="#111">Reward</text>
<text transform="translate(794.5 616.3) rotate(-90)" text-anchor="middle" font-size="6.5" fill="#111">Reward</text>
<text class="i" x="731.8" y="618.7" font-size="9"><tspan font-size="6" dy="-3" font-weight="700">s</tspan><tspan dy="3" font-weight="700">τ</tspan></text><text class="s" x="731.8" y="629.5" font-size="9">Δ<tspan font-style="italic" font-weight="700">R</tspan></text><text class="s" x="731.8" y="640.1" font-size="9">Δ<tspan font-style="italic" font-weight="700">q</tspan></text><text class="s" x="731.8" y="650.9" font-size="9">Δ(<tspan font-style="italic">φ, θ, ψ</tspan>)</text>
<text class="i" x="958.8" y="618.7" font-size="9"><tspan font-size="6" dy="-3" font-weight="700">s</tspan><tspan dy="3" font-weight="700">τ</tspan></text><text class="s" x="958.8" y="629.5" font-size="9">Δ<tspan font-style="italic" font-weight="700">R</tspan></text><text class="s" x="958.8" y="640.1" font-size="9">Δ<tspan font-style="italic" font-weight="700">q</tspan></text><text class="s" x="958.8" y="650.9" font-size="9">Δ(<tspan font-style="italic">φ, θ, ψ</tspan>)</text>
<g fill="#000"><rect x="565" y="704" width="3" height="3.2"/><rect x="565" y="738.3" width="3" height="3.2"/><rect x="565" y="772.5" width="3" height="3.2"/></g>
<text class="b" x="593.9" y="710" textLength="331.1" lengthAdjust="spacingAndGlyphs">Benchmark across all representations, algorithms, rewards</text>
<text class="b" x="593.9" y="744.3" textLength="208.8" lengthAdjust="spacingAndGlyphs">Relative tangent spaces perform best</text>
<text class="b" x="593.9" y="778.5" textLength="237.5" lengthAdjust="spacingAndGlyphs">Effects are most visible for sparse rewards</text>

<!-- Panel 5 -->
<g fill="#000"><rect x="1086" y="565" width="3" height="3.2"/><rect x="1086" y="668.4" width="3" height="3.2"/><rect x="1086" y="771.7" width="3" height="3.2"/></g>
<text class="b" x="1114.3" y="571" textLength="186.2" lengthAdjust="spacingAndGlyphs">Warped exploration distributions</text>
<text class="b" x="1114.3" y="674.4" textLength="207.7" lengthAdjust="spacingAndGlyphs">Conflicting gradients for multi-covers</text>
<text class="b" x="1114.3" y="777.7" textLength="101.4" lengthAdjust="spacingAndGlyphs">... and many more</text>
<g fill="#e8ebea"><circle cx="1137.2" cy="620" r="32.3"/><circle cx="1245.9" cy="620" r="32.3"/><circle cx="1354.2" cy="620" r="32.3"/><circle cx="1462.9" cy="620" r="32.3"/></g>
<circle cx="1137.2" cy="620" r="32.3" fill="url(#s1)" filter="url(#spk)"/>
<circle cx="1245.9" cy="620" r="32.3" fill="url(#s2)" filter="url(#spk)"/>
<circle cx="1354.2" cy="620" r="32.3" fill="#b52030" fill-opacity=".45" filter="url(#spk)"/>
<circle cx="1462.9" cy="620" r="32.3" fill="#b52030" fill-opacity=".45" filter="url(#spk)"/>
<g class="n" transform="translate(1063 508.9) scale(.3018 .1902)">
<g fill="none" stroke="#b02030" stroke-opacity=".55" stroke-width="6" stroke-linecap="round" filter="url(#bt)">
<path d="M905 520Q965 465 1025 520M905 650Q965 700 1025 650M905 520Q885 585 905 650M1025 520Q1045 585 1025 650M905 520L875 490M1025 520L1055 490M905 650L875 680M1025 650L1055 680M962 465V420M968 695V730M965 610L905 650M965 610L1025 650"/>
</g>
<g fill="none" stroke="#a81824" stroke-opacity=".9" stroke-width="5" stroke-linecap="round">
<path d="M1375 435Q1400 560 1345 650Q1310 710 1275 725M1265 505Q1265 550 1300 590Q1340 630 1375 665"/>
<path d="M1235 555Q1270 540 1282 570M1340 630Q1380 635 1405 620" stroke-width="4"/>
</g>
<g fill="none" stroke-width="3">
<path d="M246 585V520M606 585V520M965 585V520M1325 585V520" stroke="#1111dd"/>
<path d="M246 585L280 600M606 585L640 600M965 585L999 600M1325 585L1359 600" stroke="#2eaa60" stroke-width="4"/>
<path d="M246 585L217 602M606 585L577 602M965 585L936 602M1325 585L1296 602" stroke="#f08040" stroke-width="4"/>
</g>
<g fill="none" stroke="#808080" stroke-width="6" stroke-linecap="round" stroke-linejoin="round">
<path d="M318 965Q360 945 410 942M398 930L410 942L402 955M640 1028Q625 990 598 975M598 995L598 975L615 978M250 1065Q265 1100 293 1120M278 1120H293L290 1100"/>
<path d="M982 970Q1024 950 1074 947M1062 935L1074 947L1066 960M1302 1034Q1287 995 1260 980M1260 1000L1260 980L1277 983M914 1070Q929 1105 957 1125M942 1125H957L954 1105"/>
</g>
<path d="M300 1120L345 1095 385 1080 405 1050 430 1020 490 1010 530 1040 555 1080 570 1110 605 1130 608 1180C590 1140 520 1105 445 1105C370 1105 310 1130 300 1120Z" fill="url(#blueG)"/>
<path d="M281 1194L300 1215 340 1190 390 1170 470 1250 500 1255 540 1225 600 1222C580 1260 520 1283 445 1283C360 1283 295 1245 281 1194Z" fill="url(#blueG)"/>
<ellipse cx="445" cy="1194" rx="165" ry="89" fill="none" stroke="#111" stroke-width="3"/>
<path d="M955 1150L1000 1115 1135 1105 1145 1048 1170 1050 1188 1105 1250 1125 1272 1170C1240 1125 1180 1108 1108 1108C1040 1108 980 1130 955 1150Z" fill="#ffbcbc"/>
<path d="M1135 1108L1145 1048 1170 1050 1188 1110Z" fill="#ff9a9a"/>
<path d="M948 1210L1000 1240 1035 1260 1042 1175 1058 1175 1068 1265 1180 1250 1260 1225C1240 1265 1180 1285 1108 1285C1020 1285 965 1250 948 1210Z" fill="#ffc4c4"/>
<path d="M1040 1282L1042 1175H1058L1068 1285Z" fill="#ff6060"/>
<ellipse cx="1108" cy="1196" rx="163" ry="89" fill="none" stroke="#111" stroke-width="3"/>
<g fill="none" stroke="#808080" stroke-width="6" stroke-linecap="round" stroke-linejoin="round"><path d="M570 1130Q530 1150 480 1155M495 1142L480 1155L492 1165M1232 1135Q1194 1155 1144 1160M1159 1147L1144 1160L1156 1170"/></g>
<rect x="217" y="377" width="160" height="86" rx="3" fill="#fff" stroke="#ddd" stroke-width="2"/>
<ellipse cx="241" cy="398" rx="6" ry="9" fill="#ff6060"/><rect x="223" y="428" width="37" height="19" fill="#c8dcdc"/>
</g>
<text x="1145" y="586.5" font-size="5.2" fill="#222">Samples</text><text x="1145" y="594" font-size="5.2" fill="#222">Lie algebra m</text>
<g font-size="5.8" fill="#111"><text class="i" x="1137.7" y="609">ετ<tspan font-size="4" dy="1">z</tspan></text><text class="i" x="1145.5" y="621">ετ<tspan font-size="4" dy="1">y</tspan></text><text class="i" x="1130" y="621">ετ<tspan font-size="4" dy="1">x</tspan></text>
<text class="i" x="1246.5" y="609">ετ<tspan font-size="4" dy="1">z</tspan></text><text class="i" x="1254" y="621">ετ<tspan font-size="4" dy="1">y</tspan></text><text class="i" x="1238.5" y="621">ετ<tspan font-size="4" dy="1">x</tspan></text>
<text class="i" x="1355" y="609">ετ<tspan font-size="4" dy="1">z</tspan></text><text class="i" x="1362.5" y="621">ετ<tspan font-size="4" dy="1">y</tspan></text><text class="i" x="1347" y="621">ετ<tspan font-size="4" dy="1">x</tspan></text>
<text class="i" x="1463.5" y="609">ετ<tspan font-size="4" dy="1">z</tspan></text><text class="i" x="1471" y="621">ετ<tspan font-size="4" dy="1">y</tspan></text><text class="i" x="1455.5" y="621">ετ<tspan font-size="4" dy="1">x</tspan></text></g>
<g font-size="7.5" fill="#333">
<text class="s" x="1108" y="731.5"><tspan font-style="italic" font-weight="700">q</tspan> Exp(−π<tspan font-style="italic">τ</tspan><tspan font-size="5" dy="1.5">g</tspan><tspan dy="-1.5">)</tspan></text>
<text class="s" x="1198" y="727"><tspan>−</tspan><tspan font-style="italic" font-weight="700">q</tspan></text>
<text class="s" x="1250" y="748.5"><tspan font-style="italic" font-weight="700">q</tspan> Exp(π<tspan font-style="italic">τ</tspan><tspan font-size="5" dy="1.5">g</tspan><tspan dy="-1.5">)</tspan></text>
<text class="i" x="1176.5" y="757.5" font-weight="700">q</text>
<text class="s" x="1247" y="696" fill="#999">∇<tspan font-size="5" dy="1.5">a</tspan></text>
<text class="s" x="1309" y="732.5"><tspan font-style="italic" font-weight="700">q</tspan> Exp(−π<tspan font-style="italic">τ</tspan><tspan font-size="5" dy="1.5">g</tspan><tspan dy="-1.5">)</tspan></text>
<text class="s" x="1399" y="728"><tspan>−</tspan><tspan font-style="italic" font-weight="700">q</tspan></text>
<text class="s" x="1450" y="749.5"><tspan font-style="italic" font-weight="700">q</tspan> Exp(π<tspan font-style="italic">τ</tspan><tspan font-size="5" dy="1.5">g</tspan><tspan dy="-1.5">)</tspan></text>
<text class="i" x="1377" y="758.5" font-weight="700">q</text>
<text class="s" x="1447" y="698" fill="#999">∇<tspan font-size="5" dy="1.5">a</tspan></text>
</g>

<!-- Footer logos -->
<use href="#tumL" fill="#3070b3"/>
<text x="524" y="870" font-size="40" fill="none" stroke="#0070c0" stroke-width=".75" textLength="91" lengthAdjust="spacingAndGlyphs">MIRMI</text>
<path d="M930 839.4Q931.5 852 945 854.4Q931.5 856.8 930 869.6Q928.5 856.8 915 854.4Q928.5 852 930 839.4Z" fill="#000"/>
<g font-size="10.5" fill="#111" font-weight="500"><text x="952" y="846.5" textLength="41" lengthAdjust="spacingAndGlyphs">Robotics</text><text x="952" y="858" textLength="39" lengthAdjust="spacingAndGlyphs">Institute</text><text x="952" y="869" textLength="42" lengthAdjust="spacingAndGlyphs">Germany</text></g>
<circle cx="1315.5" cy="852.7" r="21.7" fill="#7cb518"/>
<g fill="none" stroke="#fff" stroke-width="1"><path d="M1294 852C1310 852 1325 845 1335 838M1295 857C1310 857 1328 850 1336 844M1296 862C1312 862 1328 855 1337 849M1299 866C1312 866 1328 860 1337 855M1303 870C1315 870 1328 866 1335 860"/></g>
<text x="1343" y="850.6" font-size="16" fill="#444" textLength="103" lengthAdjust="spacingAndGlyphs">LEARNING SYSTEMS &amp;</text>
<text x="1343" y="866.8" font-size="16" fill="#aaa" textLength="67" lengthAdjust="spacingAndGlyphs">ROBOTICS LAB</text>
</svg>
</body></html>
